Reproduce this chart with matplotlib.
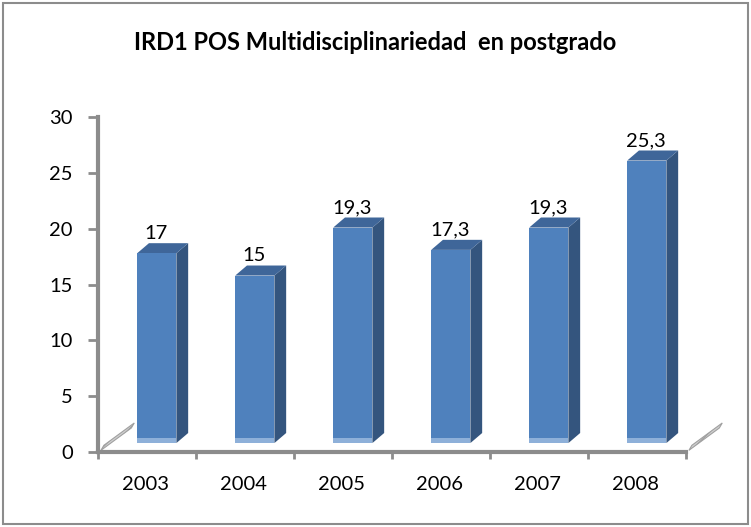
import matplotlib
matplotlib.use("Agg")
import matplotlib.pyplot as plt
from matplotlib.patches import Polygon, Rectangle

years = ["2003", "2004", "2005", "2006", "2007", "2008"]
values = [17, 15, 19.3, 17.3, 19.3, 25.3]
yticks = [0, 5, 10, 15, 20, 25, 30]

plt.rcParams['font.family'] = ['Lato', 'DejaVu Sans']

fig = plt.figure(figsize=(7.51, 5.27), dpi=100)
fig.patches.append(Rectangle((0.004, 0.006), 0.992, 0.988, transform=fig.transFigure,
                             fill=False, edgecolor='#8c8c8c', linewidth=1.5))

ax = fig.add_axes([98/751, 1-452/527, 588/751, 335/527])
ax.set_xlim(0, len(years))
ax.set_ylim(0, 30)

front_c = '#4f81bd'
side_c = '#34557e'
top_c = '#3f6699'
base_c = '#8eb0d9'

lift = 0.8      # bars float slightly above back-wall zero (3D effect)
dx, dy = 0.12, 0.9
w = 0.40

# floor edge strips
for x0 in (0.0, len(years)):
    ax.add_patch(Polygon([(x0 + 0.03, 0.15), (x0 + 0.34, 2.15), (x0 + 0.37, 2.6), (x0 + 0.06, 0.6)],
                         closed=True, facecolor='#d0d0d0', edgecolor='#a0a0a0', lw=0.8,
                         hatch='////', clip_on=False, zorder=2))

for i, v in enumerate(values):
    x0 = i + 0.40
    x1 = x0 + w
    b = lift
    t = v + lift
    ax.add_patch(Polygon([(x1, b), (x1 + dx, b + dy), (x1 + dx, t + dy), (x1, t)],
                         closed=True, facecolor=side_c, edgecolor='none', zorder=3))
    ax.add_patch(Polygon([(x0, t), (x1, t), (x1 + dx, t + dy), (x0 + dx, t + dy)],
                         closed=True, facecolor=top_c, edgecolor='none', zorder=3))
    ax.add_patch(Rectangle((x0, b), w, v, facecolor=front_c, edgecolor='none', zorder=4))
    ax.add_patch(Rectangle((x0, b), w, 0.45, facecolor=base_c, edgecolor='none', zorder=5))
    ax.text(i + 0.59, t + 1.0, f"{v:g}".replace('.', ','), ha='center', va='bottom',
            fontsize=14.5, color='black', zorder=6)

for s in ('top', 'right'):
    ax.spines[s].set_visible(False)
for s in ('left', 'bottom'):
    ax.spines[s].set_color('#8c8c8c')
    ax.spines[s].set_linewidth(3)

ax.set_yticks(yticks)
ax.set_yticklabels([str(t) for t in yticks], fontsize=14.5)
ax.tick_params(axis='y', length=7, width=2, color='#8c8c8c', pad=11)

ax.set_xticks(range(len(years) + 1))
ax.set_xticklabels([])
ax.tick_params(axis='x', length=5, width=2, color='#8c8c8c')
for i, yr in enumerate(years):
    ax.text(i + 0.48, -2.9, yr, ha='center', va='center', fontsize=14.5,
            transform=ax.transData, clip_on=False)

fig.text(0.5, 1 - 43/527, "IRD1 POS Multidisciplinariedad  en postgrado",
         ha='center', va='center', fontsize=17, fontweight='bold')

fig.savefig("out.png", dpi=100)
